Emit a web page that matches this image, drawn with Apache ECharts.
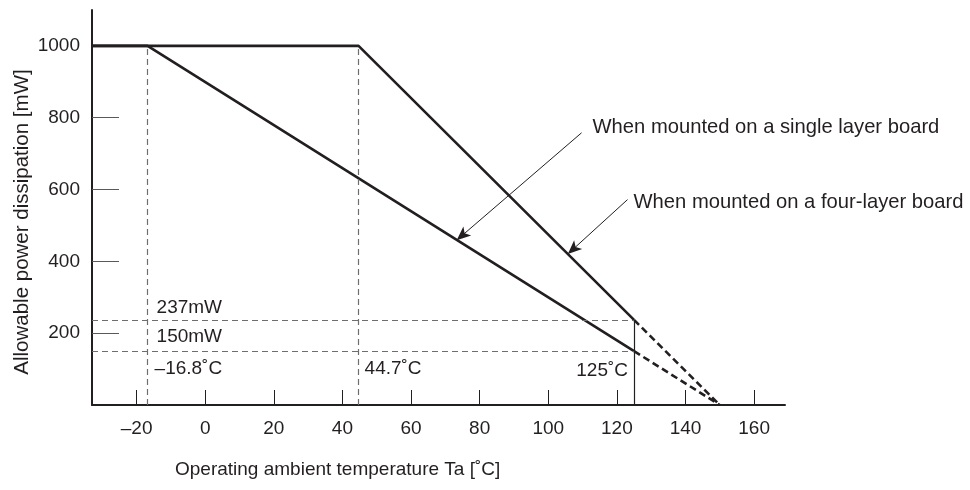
<!DOCTYPE html>
<html>
<head>
<meta charset="utf-8">
<script src="https://cdn.jsdelivr.net/npm/echarts@6/dist/echarts.min.js"></script>
<style>html,body{margin:0;padding:0;background:#fff}#c{width:970px;height:490px}</style>
</head>
<body>
<div id="c"></div>
<script>
// ---- data ----
const xMin = -33, xMax = 169;
const yMin = 0, yMax = 1100;
const xTicks = [-20, 0, 20, 40, 60, 80, 100, 120, 140, 160];
const yTicks = [200, 400, 600, 800, 1000];
const singleSolid = [[xMin, 1000], [-16.8, 1000], [125, 150]];
const singleDashed = [[125, 150], [150, 0]];
const fourSolid = [[xMin, 1000], [44.7, 1000], [125, 237]];
const fourDashed = [[125, 237], [150, 0]];
const guideH = [237, 150];           // mW
const guideV = [-16.8, 44.7];        // degC
const tjLimit = 125;
const arrowSingle = [[109.7, 758], [73.3, 459]];
const arrowFour = [[123.1, 572], [105.7, 420.5]];
const labelSingle = 'When mounted on a single layer board';
const labelFour = 'When mounted on a four-layer board';
const xTitle = 'Operating ambient temperature Ta [˚C]';
const yTitle = 'Allowable power dissipation [mW]';

const INK = '#231f20';
const FONT = 'Liberation Sans';
const FS = 19;

const chart = echarts.init(document.getElementById('c'), null, {renderer: 'canvas'});

const guideStyle = {color: '#6d6e70', width: 1.2, type: [6, 4]};

const option = {
  animation: false,
  backgroundColor: '#fff',
  textStyle: {fontFamily: FONT},
  grid: {left: 92, right: 185, top: 10, bottom: 85, containLabel: false},
  xAxis: {
    type: 'value', min: xMin, max: xMax,
    axisLine: {show: true, onZero: false, lineStyle: {color: INK, width: 2}},
    axisTick: {show: true, inside: true, length: 15, customValues: xTicks, lineStyle: {color: INK, width: 1}},
    axisLabel: {customValues: xTicks, color: INK, fontSize: FS, fontFamily: FONT, margin: 14,
      formatter: v => String(v).replace('-', '–')},
    splitLine: {show: false}
  },
  yAxis: {
    type: 'value', min: yMin, max: yMax,
    axisLine: {show: true, onZero: false, lineStyle: {color: INK, width: 2}},
    axisTick: {show: true, inside: true, length: 27, customValues: yTicks, lineStyle: {color: '#58595b', width: 1}},
    axisLabel: {customValues: yTicks, color: INK, fontSize: FS, fontFamily: FONT, margin: 12,
      formatter: v => String(v)},
    splitLine: {show: false}
  },
  series: [
    // guides
    {type: 'line', data: [], silent: true, markLine: {
      silent: true, symbol: ['none', 'none'], label: {show: false},
      lineStyle: guideStyle,
      data: guideH.map(v => [{coord: [xMin, v]}, {coord: [tjLimit, v]}])
        .concat(guideV.map(v => [{coord: [v, yMin]}, {coord: [v, 1000]}]))
    }},
    {type: 'line', data: [], silent: true, markLine: {
      silent: true, symbol: ['none', 'none'], label: {show: false},
      lineStyle: {color: INK, width: 1.2, type: 'solid'},
      data: [[{coord: [tjLimit, yMin]}, {coord: [tjLimit, guideH[0]]}]]
    }},
    {type: 'line', data: singleSolid, showSymbol: false, lineStyle: {color: INK, width: 2.6}},
    {type: 'line', data: singleDashed, showSymbol: false, lineStyle: {color: INK, width: 2.6, type: [7, 4]}},
    {type: 'line', data: fourSolid, showSymbol: false, lineStyle: {color: INK, width: 2.6}},
    {type: 'line', data: fourDashed, showSymbol: false, lineStyle: {color: INK, width: 2.6, type: [7, 4]}},
    // annotation arrows
    {type: 'line', data: [], silent: true, markLine: {
      silent: true, symbol: ['none', 'arrow'], symbolSize: [9, 14], label: {show: false},
      itemStyle: {color: INK},
      lineStyle: {color: INK, width: 1, type: 'solid'},
      data: [
        [{coord: arrowSingle[0]}, {coord: arrowSingle[1]}],
        [{coord: arrowFour[0]}, {coord: arrowFour[1]}]
      ]
    }}
  ]
};
chart.setOption(option);

function px(p) { return chart.convertToPixel({gridIndex: 0}, p); }
function txt(p, dx, dy, text, align, fs) {
  const q = px(p);
  return {type: 'text', x: q[0] + dx, y: q[1] + dy,
    style: {text: text, fill: INK, font: (fs || FS) + 'px "' + FONT + '"', textAlign: align || 'left', textVerticalAlign: 'middle'}};
}
const g = [
  txt([guideV[0], guideH[0]], 9, -12, guideH[0] + 'mW'),
  txt([guideV[0], guideH[1]], 9, -14, guideH[1] + 'mW'),
  txt([guideV[0], 0], 7, -36, String(guideV[0]).replace('-', '–') + '˚C'),
  txt([guideV[1], 0], 6, -36, guideV[1] + '˚C'),
  txt([tjLimit, 0], -6, -34, tjLimit + '˚C', 'right'),
  txt(arrowSingle[0], 11, -5, labelSingle, 'left', 20.2),
  txt(arrowFour[0], 6, 3, labelFour, 'left', 20.2),
  {type: 'text', x: 175, y: 470, style: {text: xTitle, fill: INK, font: FS + 'px "' + FONT + '"', textAlign: 'left', textVerticalAlign: 'middle'}},
  {type: 'text', x: 22, y: 222, rotation: Math.PI / 2, originX: 0, originY: 0,
    style: {text: yTitle, fill: INK, font: '20.5px "' + FONT + '"', textAlign: 'center', textVerticalAlign: 'middle'}}
];
chart.setOption({graphic: g});
</script>
</body>
</html>
